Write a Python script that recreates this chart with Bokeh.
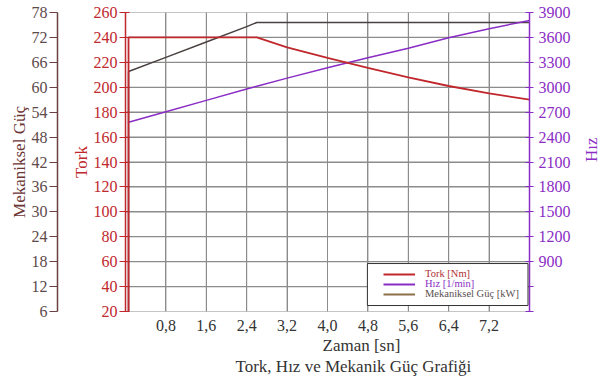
import math
from bokeh.plotting import figure
from bokeh.models import (Range1d, LinearAxis, FixedTicker, CustomJSTickFormatter, Legend,
                          LegendItem, BoxAnnotation, Title, ColumnDataSource, Span)
from bokeh.embed import file_html
from bokeh.resources import INLINE

# ---- data ----
zaman = [0.06, 0.06, 0.8, 1.6, 2.4, 2.6, 3.2, 4.0, 4.8, 5.6, 6.4, 7.2, 8.0]
tork = [20, 240, 240, 240, 240, 240, 232, 223.5, 215.5, 208, 201, 195, 190]
hiz = [2570, 2578, 2706, 2842, 2978, 3012, 3110, 3235, 3355, 3470, 3597, 3705, 3804]
guc = [6, 63.8, 67.2, 70.9, 74.6, 75.6, 75.6, 75.6, 75.6, 75.6, 75.6, 75.6, 75.6]

x_ticks = [0.8, 1.6, 2.4, 3.2, 4.0, 4.8, 5.6, 6.4, 7.2]
tork_ticks = [20, 40, 60, 80, 100, 120, 140, 160, 180, 200, 220, 240, 260]
guc_ticks = [6, 12, 18, 24, 30, 36, 42, 48, 54, 60, 66, 72, 78]
hiz_ticks = [300, 600, 900, 1200, 1500, 1800, 2100, 2400, 2700, 3000, 3300, 3600, 3900]

labels = ["Tork [Nm]", "Hız [1/min]", "Mekaniksel Güç [kW]"]

X_MIN, X_MAX = 0, 8

FONT = "Liberation Serif"
TORK_C = "#c0282d"
HIZ_C = "#8a2dc4"
GUC_C = "#4a4040"
GUC_AX = "#6b4040"
GUC_LEG = "#8c7048"
GRID_C = "#8c8c8c"
NAN = float("nan")

p = figure(width=614, height=381, x_range=Range1d(X_MIN, X_MAX),
           y_range=Range1d(tork_ticks[0], tork_ticks[-1]),
           output_backend="svg", toolbar_location=None,
           min_border_left=125, min_border_right=85, min_border_top=12, min_border_bottom=70)
p.extra_y_ranges = {"guc": Range1d(guc_ticks[0], guc_ticks[-1]),
                    "hiz": Range1d(hiz_ticks[0], hiz_ticks[-1])}
p.outline_line_color = None
p.xgrid.grid_line_color = GRID_C
p.ygrid.grid_line_color = GRID_C
p.xgrid.ticker = FixedTicker(ticks=x_ticks)
p.ygrid.ticker = FixedTicker(ticks=tork_ticks)

# grid lines from the tick arrays (reinforced)
for t in x_ticks:
    p.add_layout(Span(location=t, dimension="height", line_color=GRID_C, line_width=1, level="underlay"))
p.multi_line(xs=[[X_MIN, X_MAX] for _ in tork_ticks], ys=[[t, t] for t in tork_ticks],
             line_color=GRID_C, line_width=1.2)

# x axis
p.xaxis.ticker = FixedTicker(ticks=x_ticks)
p.xaxis.formatter = CustomJSTickFormatter(code="return tick.toFixed(1).replace('.', ',');")
p.xaxis.axis_line_color = None
p.xaxis.major_tick_line_color = None
p.xaxis.minor_tick_line_color = None
p.xaxis.major_tick_out = 0
p.xaxis.major_tick_in = 0
p.xaxis.major_label_standoff = 8
p.xaxis.major_label_text_font = FONT
p.xaxis.major_label_text_font_size = "16px"
p.xaxis.major_label_text_color = "#333333"

# Tork axis (default left)
p.yaxis.ticker = FixedTicker(ticks=tork_ticks)
p.yaxis.axis_label = "Tork"
p.yaxis.axis_label_text_font = FONT
p.yaxis.axis_label_text_font_style = "normal"
p.yaxis.axis_label_text_font_size = "17px"
p.yaxis.axis_label_text_color = TORK_C
p.yaxis.axis_label_standoff = 0
p.yaxis.axis_line_color = TORK_C
p.yaxis.axis_line_width = 1.5
p.yaxis.major_tick_line_color = TORK_C
p.yaxis.major_tick_out = 6
p.yaxis.major_tick_in = 4
p.yaxis.minor_tick_line_color = None
p.yaxis.major_label_standoff = 2
p.yaxis.major_label_text_font = FONT
p.yaxis.major_label_text_font_size = "16px"
p.yaxis.major_label_text_color = TORK_C

# spacer axis
spacer = LinearAxis(ticker=FixedTicker(ticks=[]), axis_line_color=None, major_tick_line_color=None,
                    minor_tick_line_color=None, major_tick_out=0, major_tick_in=0,
                    minor_tick_out=0, major_label_standoff=0,
                    axis_label="\u00a0", axis_label_text_font_size="1px", axis_label_standoff=7)
p.add_layout(spacer, "left")

# Mekaniksel Güç axis
guc_axis = LinearAxis(y_range_name="guc", ticker=FixedTicker(ticks=guc_ticks),
                      axis_label="Mekaniksel Güç", axis_label_text_font=FONT,
                      axis_label_text_font_style="normal", axis_label_text_font_size="17px",
                      axis_label_text_color="#6b3535", axis_label_standoff=0,
                      axis_line_color=GUC_AX, axis_line_width=1.5,
                      major_tick_line_color=GUC_AX, major_tick_out=8, major_tick_in=0,
                      minor_tick_line_color=None, major_label_standoff=2,
                      major_label_text_font=FONT, major_label_text_font_size="16px",
                      major_label_text_color="#5e4a4a")
p.add_layout(guc_axis, "left")

# Hız axis
hiz_axis = LinearAxis(y_range_name="hiz", ticker=FixedTicker(ticks=hiz_ticks),
                      formatter=CustomJSTickFormatter(code="return tick < 900 ? '' : tick.toString();"),
                      axis_label="Hız", axis_label_text_font=FONT,
                      axis_label_text_font_style="normal", axis_label_text_font_size="17px",
                      axis_label_text_color=HIZ_C, axis_label_standoff=18,
                      axis_label_orientation=math.pi / 2,
                      axis_line_color=HIZ_C, axis_line_width=1.5,
                      major_tick_line_color=HIZ_C, major_tick_out=4, major_tick_in=4,
                      minor_tick_line_color=None, major_label_standoff=5,
                      major_label_text_font=FONT, major_label_text_font_size="16px",
                      major_label_text_color=HIZ_C)
p.add_layout(hiz_axis, "right")

# data lines
src = ColumnDataSource(dict(zaman=zaman, tork=tork, hiz=hiz, guc=guc))
p.line("zaman", "guc", source=src, y_range_name="guc", line_color=GUC_C, line_width=1.5)
p.line("zaman", "hiz", source=src, y_range_name="hiz", line_color=HIZ_C, line_width=1.5)
p.line("zaman", "tork", source=src, line_color=TORK_C, line_width=1.8)

# legend
box = BoxAnnotation(left=4.79, right=7.97, bottom=24.8, top=58.5, fill_color="white",
                    fill_alpha=1, line_color="#333333", line_width=1, line_alpha=1)
p.add_layout(box)

leg_r = [p.line(x=[NAN], y=[NAN], line_color=c, line_width=2) for c in (TORK_C, HIZ_C, GUC_LEG)]
txt_cols = ["#b03035", HIZ_C, "#5a5050"]
for i, (lbl, r, tc) in enumerate(zip(labels, leg_r, txt_cols)):
    lg = Legend(items=[LegendItem(label=lbl, renderers=[r])], location=(258, 32 - 10 * i),
                border_line_color=None, background_fill_alpha=0, padding=0, margin=0,
                spacing=0, glyph_width=32, glyph_height=10, label_height=10,
                label_standoff=10, label_text_font=FONT, label_text_font_size="10.5px",
                label_text_color=tc)
    p.add_layout(lg)

# bottom titles
t1 = Title(text="Zaman [sn]", align="left", offset=197, text_font=FONT,
           text_font_size="17px", text_font_style="normal", text_color="#333333", standoff=0)
p.add_layout(t1, "below")
t2 = Title(text="Tork, Hız ve Mekanik Güç Grafiği", align="left", offset=110, text_font=FONT,
           text_font_size="17px", text_font_style="normal", text_color="#333333", standoff=0)
p.add_layout(t2, "below")

open("out.html", "w").write(file_html(p, INLINE))
